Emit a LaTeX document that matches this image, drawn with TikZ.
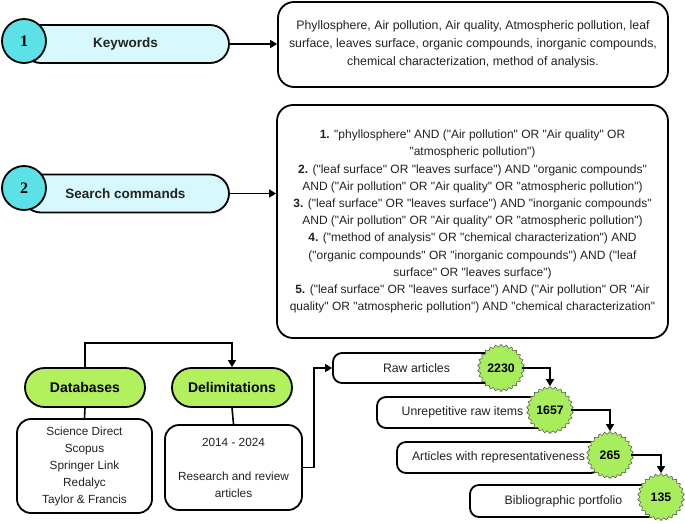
\documentclass[tikz,border=0pt]{standalone}
\usepackage{fontspec}
\setmainfont{Liberation Sans}[Ligatures=TeXOff]
\newfontfamily\numfont{Liberation Serif}
\usetikzlibrary{shapes.misc,shapes.geometric,arrows.meta}
\definecolor{cyanc}{HTML}{5CE1E6}
\definecolor{pillc}{HTML}{D7F8FC}
\definecolor{greenc}{HTML}{B3F05E}
\definecolor{starc}{HTML}{A8EE5C}
\definecolor{txtc}{HTML}{222222}
\begin{document}
\begin{tikzpicture}[x=1pt,y=-1pt,
  pill/.style={rounded rectangle, draw=black, line width=1.8pt, fill=pillc, minimum height=38pt, inner sep=0pt, font=\fontsize{13.5}{16}\selectfont\bfseries, text=txtc},
  gpill/.style={rounded rectangle, draw=black, line width=1.8pt, fill=greenc, minimum width=120pt, minimum height=39pt, inner sep=0pt, font=\fontsize{14}{16}\selectfont\bfseries, text=black},
  numc/.style={circle, draw=black, line width=1.8pt, fill=cyanc, minimum size=44pt, inner sep=0pt, font=\numfont\fontsize{16}{18}\selectfont\bfseries},
  bigbox/.style={rectangle, rounded corners=16pt, draw=black, line width=1.8pt, fill=white, inner sep=0pt, align=center, text=txtc},
  lbox/.style={rectangle, rounded corners=14pt, draw=black, line width=1.8pt, fill=white, inner sep=0pt, align=center, font=\fontsize{11.8}{17}\selectfont, text=txtc},
  sbox/.style={rectangle, rounded corners=9pt, draw=black, line width=1.8pt, fill=white, inner sep=0pt, font=\fontsize{12.3}{15}\selectfont, text=txtc},
  burst/.style={star, star points=26, star point ratio=1.12, draw=black!70, line width=0.5pt, fill=starc, minimum size=47pt, inner sep=0pt, font=\fontsize{12.3}{14}\selectfont\bfseries},
  arr/.style={line width=1.6pt, -{Triangle[length=7pt,width=8pt]}},
  ln/.style={line width=1.6pt}
]
\useasboundingbox (0,0) rectangle (685,523);

% Row 1
\node[pill, minimum width=207pt] (p1) at (125.5,44) {Keywords};
\node[numc] (c1) at (24,41) {1};
\node[bigbox, minimum width=390pt, minimum height=85pt, font=\fontsize{12.3}{18.3}\selectfont] (kb) at (473,44.5)
  {Phyllosphere, Air pollution, Air quality, Atmospheric pollution, leaf\\
   surface, leaves surface, organic compounds, inorganic compounds,\\
   chemical characterization, method of analysis.};
\draw[arr] (p1.east) -- (kb.west |- p1.east);

% Row 2
\node[pill, minimum width=207pt] (p2) at (125.5,193.5) {Search commands};
\node[numc] (c2) at (24,188) {2};
\node[bigbox, minimum width=391pt, minimum height=233pt, font=\fontsize{12}{17.2}\selectfont] (sb) at (472.5,221.5)
  {\textbf{1.} "phyllosphere" AND ("Air pollution" OR "Air quality" OR\\
   "atmospheric pollution")\\
   \textbf{2.} ("leaf surface" OR "leaves surface") AND "organic compounds"\\
   AND ("Air pollution" OR "Air quality" OR "atmospheric pollution")\\
   \textbf{3.} ("leaf surface" OR "leaves surface") AND "inorganic compounds"\\
   AND ("Air pollution" OR "Air quality" OR "atmospheric pollution")\\
   \textbf{4.} ("method of analysis" OR "chemical characterization") AND\\
   ("organic compounds" OR "inorganic compounds") AND ("leaf\\
   surface" OR "leaves surface")\\
   \textbf{5.} ("leaf surface" OR "leaves surface") AND ("Air pollution" OR "Air\\
   quality" OR "atmospheric pollution") AND "chemical characterization"};
\draw[arr] (p2.east) -- (sb.west |- p2.east);

% Bottom left
\node[gpill] (db) at (85,387.5) {Databases};
\node[gpill] (dl) at (232,387.5) {Delimitations};
\node[lbox, minimum width=135pt, minimum height=94pt] (dbb) at (84.5,466)
  {Science Direct\\Scopus\\Springer Link\\Redalyc\\Taylor \& Francis};
\node[lbox, minimum width=137pt, minimum height=85pt] (dlb) at (233.5,467.5)
  {2014 - 2024\\[17pt]Research and review\\articles};
\draw[arr] (db.north) -- ++(0,-24) -| (dl.north);
\draw[ln] (db.south) -- (dbb.north);
\draw[ln] (dl.south) -- (dlb.north);

% Funnel
\node[sbox, minimum width=167pt, minimum height=30pt] (raw) at (416.5,368) {Raw articles};
\node[sbox, minimum width=171pt, minimum height=31pt] (unr) at (462.5,412.5) {Unrepetitive raw items};
\node[sbox, minimum width=203pt, minimum height=31pt] (art) at (498.5,457.5) {Articles with representativeness};
\node[sbox, minimum width=187pt, minimum height=32pt] (bib) at (563.5,501) {Bibliographic portfolio};
\node[burst] (s1) at (501,368) {2230};
\node[burst] (s2) at (550,410) {1657};
\node[burst] (s3) at (610,455) {265};
\node[burst] (s4) at (661,497) {135};

\draw[arr] (dlb.east) -- ++(11,0) |- (raw.west);
\draw[arr] (s1.east) -| (s2.north);
\draw[arr] (s2.east) -| (s3.north);
\draw[arr] (s3.east) -| (s4.north);
\end{tikzpicture}
\end{document}
